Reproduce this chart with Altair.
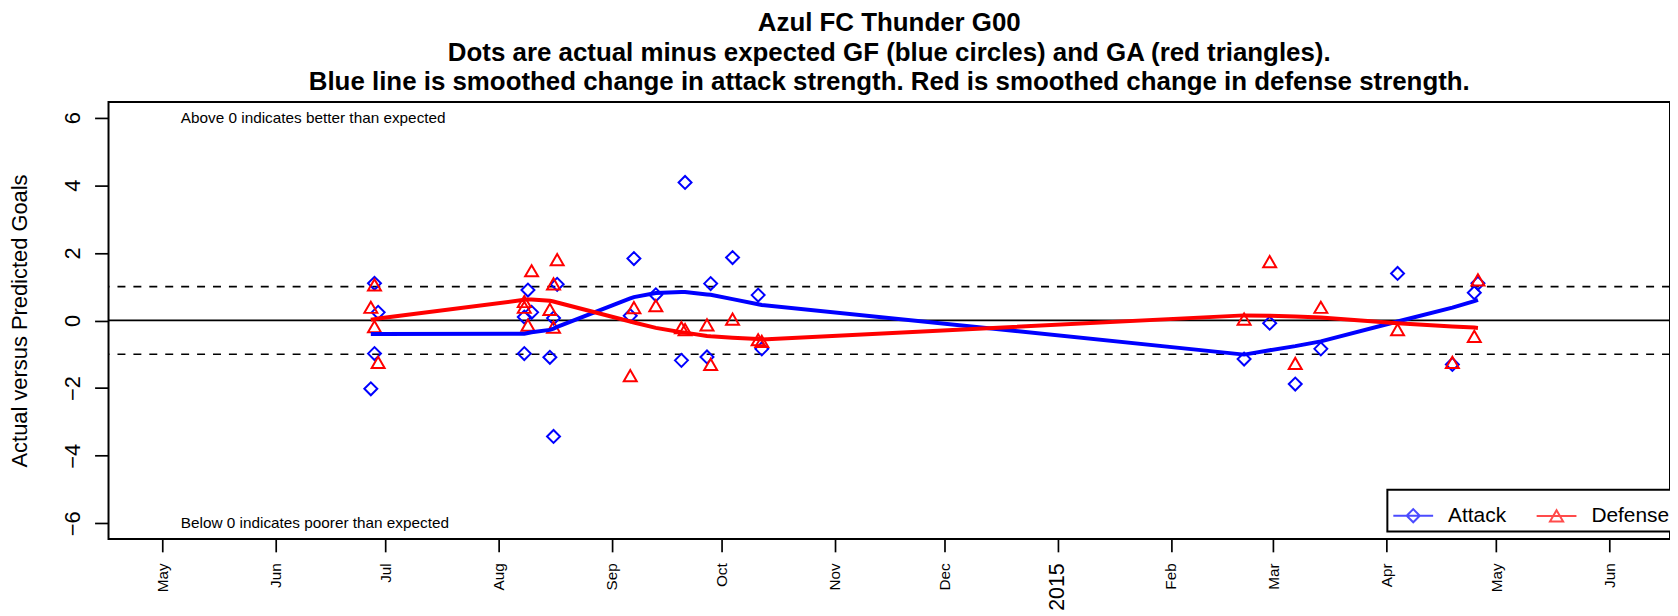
import altair as alt
import pandas as pd

# ---------------- data ----------------
match_dates = [
    "2014-06-27", "2014-06-28", "2014-06-28", "2014-06-29",
    "2014-08-08", "2014-08-08", "2014-08-09", "2014-08-10", "2014-08-15", "2014-08-16", "2014-08-16", "2014-08-17",
    "2014-09-06", "2014-09-07", "2014-09-13", "2014-09-20", "2014-09-21", "2014-09-27", "2014-09-28",
    "2014-10-04", "2014-10-11", "2014-10-12",
    "2015-02-21", "2015-02-28", "2015-03-07", "2015-03-14", "2015-04-04", "2015-04-19", "2015-04-25", "2015-04-26",
]
attack_values = [
    -2.02, 1.10, -0.98, 0.24,
    0.10, -0.98, 0.90, 0.24, -1.09, -3.43, 0.07, 1.07,
    0.14, 1.83, 0.76, -1.18, 4.08, -1.08, 1.09,
    1.86, 0.75, -0.84,
    -1.14, -0.08, -1.88, -0.84, 1.39, -1.30, 0.82, 1.10,
]
defense_values = [
    0.39, 1.05, -0.18, -1.24,
    0.56, 0.39, -0.14, 1.47, 0.33, 1.08, -0.20, 1.80,
    -1.63, 0.38, 0.44, -0.21, -0.27, -0.13, -1.30,
    0.04, -0.57, -0.62,
    0.04, 1.74, -1.27, 0.39, -0.27, -1.24, -0.47, 1.20,
]

smooth_dates = [
    "2014-06-27", "2014-06-28", "2014-06-29",
    "2014-08-08", "2014-08-09", "2014-08-10", "2014-08-15", "2014-08-16", "2014-08-17",
    "2014-09-06", "2014-09-07", "2014-09-13", "2014-09-20", "2014-09-21", "2014-09-27", "2014-09-28",
    "2014-10-04", "2014-10-11", "2014-10-12",
    "2015-02-21", "2015-02-28", "2015-03-07", "2015-03-14", "2015-04-04", "2015-04-19", "2015-04-25", "2015-04-26",
]
attack_smooth = [
    -0.40, -0.40, -0.40,
    -0.39, -0.37, -0.35, -0.28, -0.24, -0.19,
    0.65, 0.69, 0.81, 0.84, 0.84, 0.77, 0.76,
    0.63, 0.48, 0.46,
    -1.01, -0.88, -0.76, -0.62, -0.03, 0.38, 0.57, 0.61,
]
defense_smooth = [
    0.02, 0.04, 0.06,
    0.61, 0.62, 0.62, 0.58, 0.56, 0.53,
    -0.03, -0.06, -0.22, -0.35, -0.36, -0.46, -0.47,
    -0.51, -0.55, -0.56,
    0.15, 0.14, 0.12, 0.09, -0.08, -0.18, -0.21, -0.22,
]

ref_solid = [0]
ref_dashed = [1, -1]

note_dates = ["2014-05-06", "2014-05-06"]
note_values = [6, -6]
note_texts = ["Above 0 indicates better than expected", "Below 0 indicates poorer than expected"]

tick_months = [(2014, 5), (2014, 6), (2014, 7), (2014, 8), (2014, 9), (2014, 10), (2014, 11), (2014, 12),
               (2015, 1), (2015, 2), (2015, 3), (2015, 4), (2015, 5), (2015, 6)]
y_ticks = [-6, -4, -2, 0, 2, 4, 6]

series_names = ["Attack", "Defense"]
series_colors = ["#0000FF", "#FF0000"]

title_lines = [
    "Azul FC Thunder G00",
    "Dots are actual minus expected GF (blue circles) and GA (red triangles).",
    "Blue line is smoothed change in attack strength. Red is smoothed change in defense strength.",
]

FONT = "Liberation Sans"

# ---------------- tables ----------------
pts_a = pd.DataFrame({"date": match_dates, "value": attack_values})
pts_d = pd.DataFrame({"date": match_dates, "value": defense_values})
sm_a = pd.DataFrame({"date": smooth_dates, "value": attack_smooth})
sm_d = pd.DataFrame({"date": smooth_dates, "value": defense_smooth})
solid_df = pd.DataFrame({"value": ref_solid})
dashed_df = pd.DataFrame({"value": ref_dashed})
notes_df = pd.DataFrame({"date": note_dates, "value": note_values, "text": note_texts})
legend_df = pd.DataFrame({"series": series_names})

# ---------------- scales & axes ----------------
x_scale = alt.Scale(
    type="utc",
    domain=[alt.DateTime(year=2014, month=4, date=16, hours=5, utc=True),
            alt.DateTime(year=2015, month=6, date=17, hours=13, minutes=30, utc=True)],
)
x_axis = alt.Axis(
    values=[alt.DateTime(year=y, month=m, date=1, utc=True) for (y, m) in tick_months],
    labelExpr="utcmonth(datum.value) == 0 ? utcFormat(datum.value, '%Y') : utcFormat(datum.value, '%b')",
    labelAngle=270, labelAlign="right", labelBaseline="middle", labelPadding=11,
    labelFontSize={"condition": {"test": "utcmonth(datum.value) == 0", "value": 21.5}, "value": 15.4},
    labelFont=FONT, labelColor="black", labelOverlap=False, labelFlush=False,
    tickSize=13, tickWidth=1.7, tickColor="black", domain=False, grid=False, title=None,
)
y_scale = alt.Scale(domain=[-6.46, 6.46], nice=False, zero=False)
y_axis = alt.Axis(
    values=y_ticks, labelAngle=270, labelAlign="center", labelBaseline="bottom", labelPadding=10,
    labelFontSize=22, labelFont=FONT, labelColor="black", labelOverlap=False, labelFlush=False,
    tickSize=14, tickWidth=1.7, tickColor="black", domain=False, grid=False,
    title="Actual versus Predicted Goals", titleFontSize=22, titleFont=FONT, titleFontWeight="normal",
    titleColor="black", titleAngle=270, titleX=-89, titleY=219.5, titleAlign="center", titleBaseline="middle",
)
X = alt.X("date:T", scale=x_scale, axis=x_axis)
Y = alt.Y("value:Q", scale=y_scale, axis=y_axis)

# ---------------- layers ----------------
zero_line = alt.Chart(solid_df).mark_rule(color="black", strokeWidth=1.7).encode(y=Y)
dash_lines = alt.Chart(dashed_df).mark_rule(color="black", strokeWidth=1.7, strokeDash=[8, 8]).encode(y=Y)

points_a = alt.Chart(pts_a).mark_point(shape="diamond", filled=False, color=series_colors[0],
                                       size=169, strokeWidth=2, opacity=1).encode(x=X, y=Y)
points_d = alt.Chart(pts_d).mark_point(shape="triangle-up", filled=False, color=series_colors[1],
                                       size=169, strokeWidth=2, opacity=1).encode(x=X, y=Y)
line_a = alt.Chart(sm_a).mark_line(color=series_colors[0], strokeWidth=4).encode(x=X, y=Y)
line_d = alt.Chart(sm_d).mark_line(color=series_colors[1], strokeWidth=4).encode(x=X, y=Y)

notes = alt.Chart(notes_df).mark_text(align="left", baseline="middle", font=FONT, fontSize=15.4,
                                      color="black").encode(x=X, y=Y, text="text:N")

diamond_path = "M-1,0L1,0M-0.33,0L0,-0.33L0.33,0L0,0.33Z"
triangle_path = "M-1,0L1,0M0,-0.29L-0.33,0.28L0.33,0.28Z"
leg = alt.Legend(
    title=None, orient="none", legendX=1285, legendY=389.5, direction="horizontal",
    fillColor="white", strokeColor="black", padding=5,
    labelFontSize=21, labelFont=FONT, labelColor="black", labelOffset=14, labelBaseline="middle",
    columnPadding=26, symbolSize=1600, symbolStrokeWidth=2,
)
legend_layer = alt.Chart(legend_df).transform_filter("false").mark_point(
    filled=False, size=1600, strokeWidth=2
).encode(
    color=alt.Color("series:N", scale=alt.Scale(domain=series_names, range=series_colors), legend=leg),
    shape=alt.Shape("series:N", scale=alt.Scale(domain=series_names, range=[diamond_path, triangle_path]),
                    legend=leg),
)

chart = alt.layer(
    zero_line, dash_lines, points_a, points_d, line_a, line_d, notes, legend_layer
).properties(
    width=1569, height=439,
    title=alt.TitleParams(text=title_lines, fontSize=26, font=FONT, fontWeight="bold", color="black",
                          anchor="middle", lineHeight=29.5, offset=7),
    padding={"left": 101, "top": 93, "right": 0, "bottom": 76},
    autosize=alt.AutoSizeParams(type="none"),
).configure_view(stroke="black", strokeWidth=2).configure_legend(strokeWidth=2)

chart.save("out.html", embed_options={"renderer": "svg", "actions": False})
